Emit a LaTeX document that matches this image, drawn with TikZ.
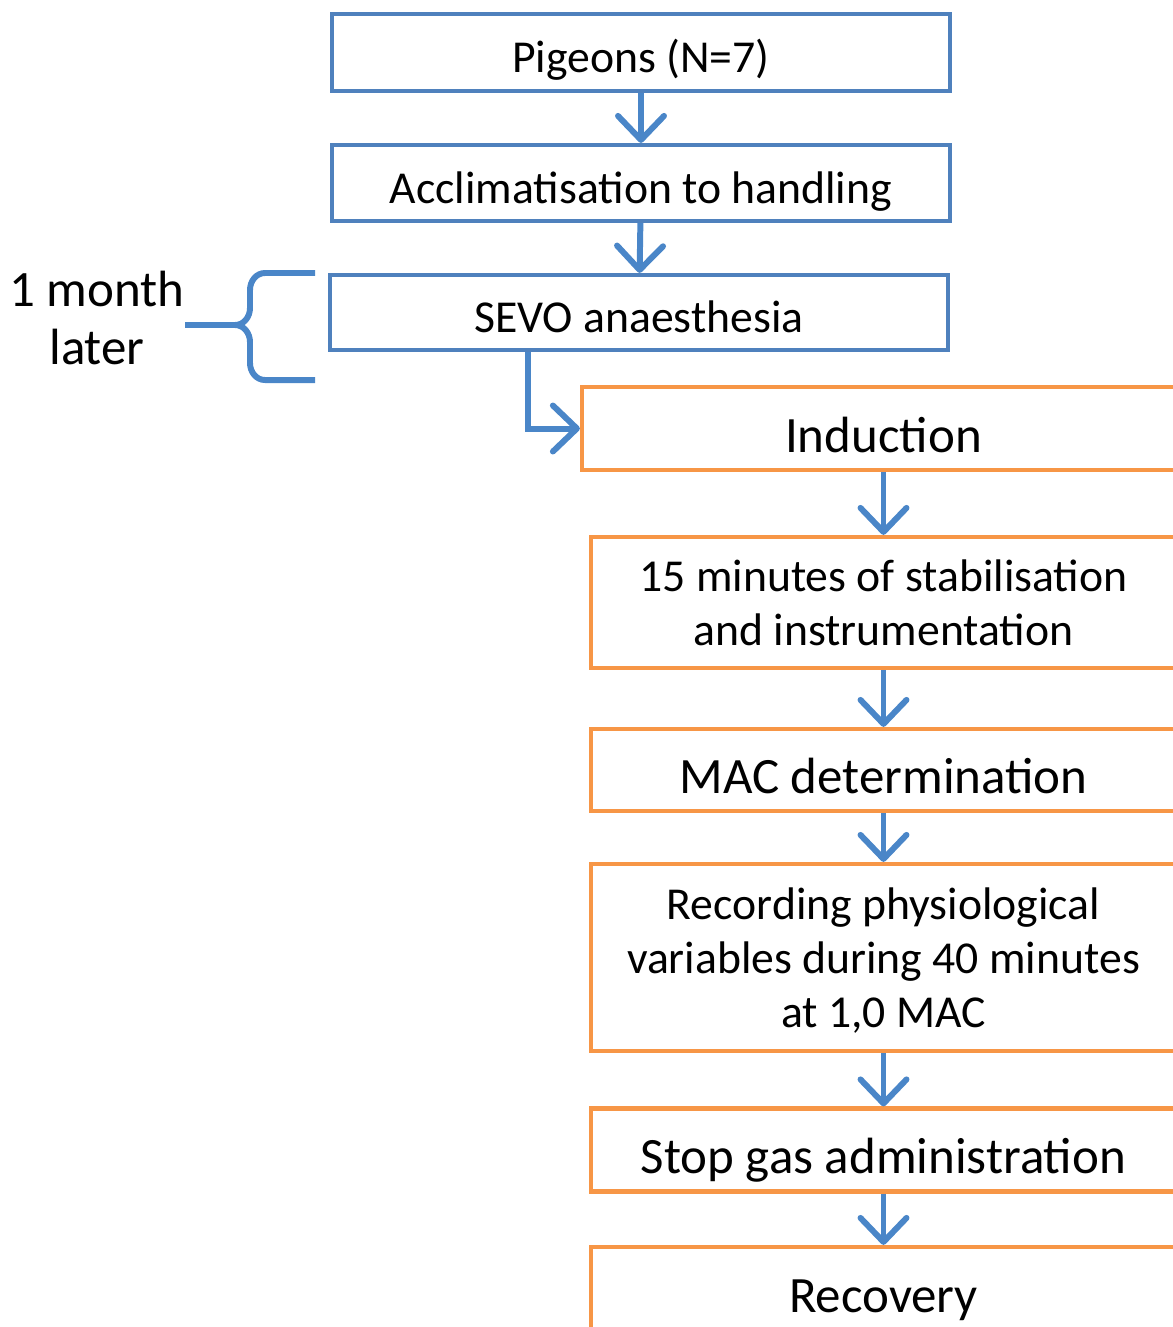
\documentclass[tikz,border=0pt]{standalone}
\usepackage{fontspec}
\setmainfont{Carlito}
\usetikzlibrary{arrows.meta}
\definecolor{boxblue}{RGB}{79,129,189}
\definecolor{arrblue}{RGB}{74,134,200}
\definecolor{boxorange}{RGB}{247,150,70}
\tikzset{>={Straight Barb[length=2.4mm,width=4.6mm,round]},
  bluebox/.style={draw=boxblue,line width=1.2pt,minimum width=6.18cm,inner sep=0pt,font=\fontsize{13}{15}\selectfont,text height=11.6pt,text depth=0pt},
  orangebox/.style={draw=boxorange,line width=1.2pt,minimum width=5.85cm,inner sep=0pt,align=center},
  bigtext/.style={font=\fontsize{14.5}{16.5}\selectfont,text height=13.4pt,text depth=0pt},
  smalltext/.style={font=\fontsize{13}{15.3}\selectfont,text depth=-2pt},
  flow/.style={arrblue,line width=1.7pt,->},
  brace/.style={arrblue,line width=1.7pt}}
\begin{document}
\begin{tikzpicture}
\useasboundingbox (0,0) rectangle (11.73,-13.27);\clip (0,0) rectangle (11.73,-13.27);
% blue part
\node[bluebox,minimum height=.77cm] (pig) at (6.41,-.525) {Pigeons (N=7)};
\node[bluebox,minimum height=.76cm] (accl) at (6.41,-1.83) {Acclimatisation to handling};
\node[bluebox,minimum height=.75cm] (sevo) at (6.39,-3.125) {SEVO anaesthesia};
\draw[flow] (pig)--(accl);\draw[flow] (accl)--(sevo);
% brace
\draw[brace] (3.15,-2.73)--(2.65,-2.73) to[out=180,in=90] (2.50,-2.90)--(2.50,-3.08) to[out=-90,in=0] (2.35,-3.25)--(1.85,-3.25);
\draw[brace] (2.35,-3.25) to[out=0,in=90] (2.50,-3.42)--(2.50,-3.63) to[out=-90,in=180] (2.65,-3.80)--(3.15,-3.80);
\node[font=\fontsize{14.5}{16.5}\selectfont,align=center] (later) at (.97,-3.18) {1 month\\later};
% orange part
\node[orangebox,bigtext,minimum width=6.03cm,minimum height=.83cm] (ind) at (8.835,-4.285) {Induction};
\node[orangebox,smalltext,minimum height=1.31cm] (stab) at (8.835,-6.025) {15 minutes of stabilisation\\and instrumentation};
\node[orangebox,bigtext,minimum height=.82cm] (mac) at (8.835,-7.70) {MAC determination};
\node[orangebox,smalltext,minimum height=1.87cm] (rec) at (8.835,-9.575) {Recording physiological\\variables during 40 minutes\\at 1,0 MAC};
\node[orangebox,bigtext,minimum height=.83cm] (stop) at (8.835,-11.50) {Stop gas administration};
\node[orangebox,bigtext,minimum height=.84cm] (recov) at (8.835,-12.89) {Recovery};
\draw[flow] ([xshift=-1.11cm]sevo.south) |- (ind.west);
\draw[flow] (ind)--(stab);\draw[flow] (stab)--(mac);\draw[flow] (mac)--(rec);
\draw[flow] (rec)--(stop);\draw[flow] (stop)--(recov);
\end{tikzpicture}
\end{document}
